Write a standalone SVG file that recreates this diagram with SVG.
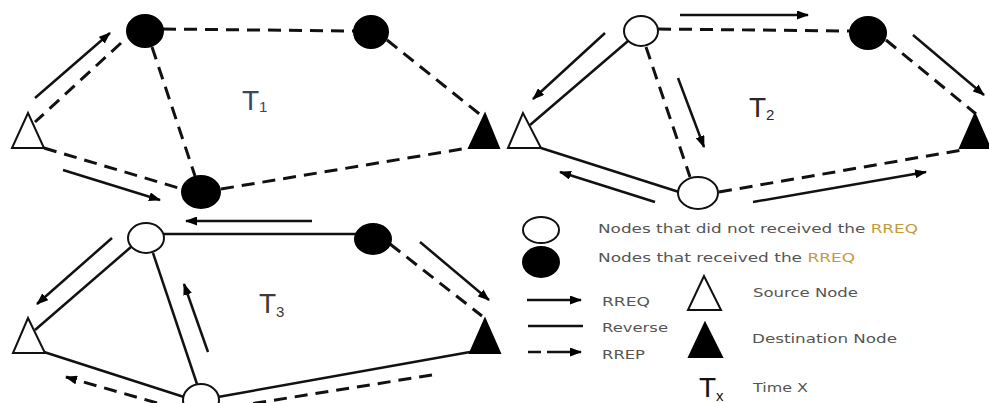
<svg xmlns="http://www.w3.org/2000/svg" width="989" height="403" viewBox="0 0 989 403">
  <defs>
    <marker id="head" viewBox="0 0 12 9" refX="11" refY="4.5" markerWidth="12" markerHeight="9" markerUnits="userSpaceOnUse" orient="auto">
      <path d="M0,0 L12,4.5 L0,9 z" fill="#000"/>
    </marker>
    <style>
      .link { stroke: #111; stroke-width: 3; fill: none; stroke-dasharray: 13 8; }
      .rev { stroke: #111; stroke-width: 2.5; fill: none; }
      .req { stroke: #111; stroke-width: 2.5; fill: none; marker-end: url(#head); }
      .rep { stroke: #111; stroke-width: 3; fill: none; stroke-dasharray: 13 8; marker-end: url(#head); }
      .open { fill: #fff; stroke: #111; stroke-width: 2; }
      .full { fill: #000; stroke: #000; stroke-width: 2; }
      .lbl { font-family: "Liberation Sans", Arial, sans-serif; font-size: 28px; }
      .sub { font-size: 15px; }
      .leg { font-family: "DejaVu Sans", "Liberation Sans", sans-serif; font-size: 12px; fill: #555; }
    </style>
  </defs>

  <!-- connectors: dashed links, solid reverse paths, RREQ / RREP arrows -->
  <g id="connectors">
    <!-- T1 -->
    <line class="link" x1="163" y1="29" x2="354" y2="31"/>
    <line class="link" x1="152" y1="47" x2="195" y2="176"/>
    <line class="link" x1="387" y1="40" x2="482" y2="116"/>
    <line class="link" x1="221" y1="189" x2="468" y2="148"/>
    <line class="link" x1="44" y1="148" x2="182" y2="189"/>
    <line class="link" x1="121" y1="43" x2="35" y2="122"/>
    <line class="req" x1="35" y1="98" x2="110" y2="33"/>
    <line class="req" x1="63" y1="170" x2="160" y2="200"/>

    <!-- T2 -->
    <line class="link" x1="658" y1="29" x2="850" y2="31"/>
    <line class="req" x1="680" y1="15" x2="808" y2="15"/>
    <line class="link" x1="886" y1="40" x2="976" y2="114"/>
    <line class="req" x1="913" y1="35" x2="984" y2="95"/>
    <line class="link" x1="719" y1="192" x2="962" y2="150"/>
    <line class="req" x1="753" y1="202" x2="926" y2="172"/>
    <line class="rev" x1="628" y1="41" x2="530" y2="125"/>
    <line class="req" x1="605" y1="33" x2="533" y2="99"/>
    <line class="link" x1="646" y1="47" x2="690" y2="177"/>
    <line class="req" x1="678" y1="78" x2="704" y2="147"/>
    <line class="rev" x1="541" y1="148" x2="679" y2="192"/>
    <line class="req" x1="655" y1="202" x2="560" y2="172"/>

    <!-- T3 -->
    <line class="rev" x1="164" y1="234" x2="356" y2="234"/>
    <line class="req" x1="312" y1="221" x2="186" y2="221"/>
    <line class="link" x1="390" y1="244" x2="482" y2="316"/>
    <line class="req" x1="420" y1="242" x2="489" y2="300"/>
    <line class="rev" x1="470" y1="352" x2="218" y2="397"/>
    <line class="link" x1="432" y1="375" x2="250" y2="404"/>
    <line class="rev" x1="44" y1="352" x2="184" y2="397"/>
    <line class="rep" x1="157" y1="403" x2="66" y2="377"/>
    <line class="rev" x1="131" y1="247" x2="35" y2="330"/>
    <line class="req" x1="112" y1="238" x2="37" y2="304"/>
    <line class="rev" x1="153" y1="253" x2="197" y2="384"/>
    <line class="req" x1="208" y1="352" x2="184" y2="284"/>
  </g>

  <!-- T1 nodes -->
  <g id="t1-source"><polygon class="open" points="28,113 12,148 44,148"/></g>
  <g id="t1-n1"><ellipse class="full" cx="145" cy="31" rx="18" ry="16"/></g>
  <g id="t1-n2"><ellipse class="full" cx="371" cy="32" rx="17" ry="16"/></g>
  <g id="t1-n3"><ellipse class="full" cx="201" cy="192" rx="19" ry="16"/></g>
  <g id="t1-dest"><polygon class="full" points="485,114 469,148 499,148"/></g>
  <g id="t1-label"><text class="lbl" x="242" y="110" fill="#3a4666">T<tspan class="sub" dy="2">1</tspan></text></g>

  <!-- T2 nodes -->
  <g id="t2-source"><polygon class="open" points="523,113 508,148 541,148"/></g>
  <g id="t2-n1"><ellipse class="open" cx="641" cy="31" rx="17" ry="15"/></g>
  <g id="t2-n2"><ellipse class="full" cx="868" cy="33" rx="18" ry="16"/></g>
  <g id="t2-n3"><ellipse class="open" cx="698" cy="193" rx="20" ry="16"/></g>
  <g id="t2-dest"><polygon class="full" points="975,114 960,148 990,148"/></g>
  <g id="t2-label"><text class="lbl" x="749" y="117" fill="#2e2626">T<tspan class="sub" dy="3">2</tspan></text></g>

  <!-- T3 nodes -->
  <g id="t3-source"><polygon class="open" points="28,318 13,353 45,353"/></g>
  <g id="t3-n1"><ellipse class="open" cx="146" cy="238" rx="18" ry="15"/></g>
  <g id="t3-n2"><ellipse class="full" cx="373" cy="239" rx="18" ry="15"/></g>
  <g id="t3-n3"><ellipse class="open" cx="201" cy="400" rx="18" ry="16"/></g>
  <g id="t3-dest"><polygon class="full" points="485,319 470,353 500,353"/></g>
  <g id="t3-label"><text class="lbl" x="259" y="313" fill="#3f3a33">T<tspan class="sub" dy="4">3</tspan></text></g>

  <!-- legend -->
  <g id="legend">
    <ellipse class="open" cx="541" cy="230" rx="18" ry="13"/>
    <ellipse class="full" cx="541" cy="262" rx="18" ry="15"/>
    <text class="leg" x="598" y="233" textLength="320" lengthAdjust="spacingAndGlyphs">Nodes that did not received the <tspan fill="#c49a3c">RREQ</tspan></text>
    <text class="leg" x="598" y="262" textLength="257" lengthAdjust="spacingAndGlyphs">Nodes that received the <tspan fill="#c49a3c">RREQ</tspan></text>

    <line class="req" x1="527" y1="300" x2="581" y2="300"/>
    <line class="rev" x1="528" y1="326" x2="583" y2="326"/>
    <line class="rev" x1="528" y1="352" x2="541" y2="352" stroke-width="3"/>
    <line class="req" x1="547" y1="352" x2="581" y2="352"/>
    <text class="leg" x="602" y="306" textLength="48" lengthAdjust="spacingAndGlyphs">RREQ</text>
    <text class="leg" x="602" y="332" textLength="66" lengthAdjust="spacingAndGlyphs">Reverse</text>
    <text class="leg" x="602" y="359" textLength="43" lengthAdjust="spacingAndGlyphs">RREP</text>

    <polygon class="open" points="704,276 688,310 721,310"/>
    <polygon class="full" points="705,323 689,357 722,357"/>
    <text class="leg" x="753" y="297" textLength="105" lengthAdjust="spacingAndGlyphs">Source Node</text>
    <text class="leg" x="752" y="343" textLength="145" lengthAdjust="spacingAndGlyphs">Destination Node</text>

    <text class="lbl" x="699" y="397" fill="#111">T<tspan class="sub" dy="4">x</tspan></text>
    <text class="leg" x="753" y="392" fill="#6a2a5a" textLength="55" lengthAdjust="spacingAndGlyphs">Time X</text>
  </g>
</svg>
